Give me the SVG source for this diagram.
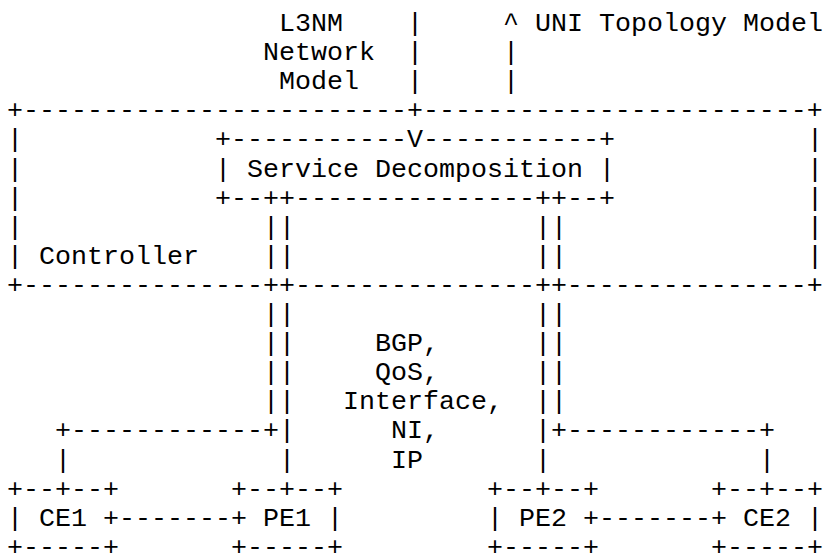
<svg xmlns="http://www.w3.org/2000/svg" width="823" height="557" viewBox="0 0 823 557">
<style>
text { font-family: "Liberation Mono", "DejaVu Sans Mono", monospace; font-size: 26.667px; fill: #000; white-space: pre; }
</style>
<rect width="823" height="557" fill="#fff"/>
<g id="labels">
<text x="279" y="31">L3NM</text>
<text x="263" y="60.1">Network</text>
<text x="279" y="89.2">Model</text>
<text x="535" y="31">UNI Topology Model</text>
<text x="375" y="351.1">BGP,</text>
<text x="375" y="380.2">QoS,</text>
<text x="343" y="409.3">Interface,</text>
<text x="391" y="438.4">NI,</text>
<text x="391" y="467.5">IP</text>
</g>
<g id="controller">
<text x="7" y="118.3">+------------------------+------------------------+</text>
<text x="7" y="147.4">|</text><text x="807" y="147.4">|</text>
<text x="7" y="176.5">|</text><text x="807" y="176.5">|</text>
<text x="7" y="205.6">|</text><text x="807" y="205.6">|</text>
<text x="7" y="234.7">|</text><text x="807" y="234.7">|</text>
<text x="7" y="263.8">|</text><text x="39" y="263.8">Controller</text><text x="807" y="263.8">|</text>
<text x="7" y="292.9">+---------------++---------------++---------------+</text>
</g>
<g id="service-decomposition">
<text x="215" y="147.4">+-----------</text><text x="423" y="147.4">-----------+</text>
<text x="215" y="176.5">|</text><text x="247" y="176.5">Service Decomposition</text><text x="599" y="176.5">|</text>
<text x="215" y="205.6">+--++---------------++--+</text>
</g>
<g id="ce1">
<text x="7" y="496.6">+--+--+</text>
<text x="7" y="525.7">| CE1 +</text>
<text x="7" y="554.8">+-----+</text>
</g>
<g id="pe1">
<text x="231" y="496.6">+--+--+</text>
<text x="231" y="525.7">+ PE1 |</text>
<text x="231" y="554.8">+-----+</text>
</g>
<g id="pe2">
<text x="487" y="496.6">+--+--+</text>
<text x="487" y="525.7">| PE2 +</text>
<text x="487" y="554.8">+-----+</text>
</g>
<g id="ce2">
<text x="711" y="496.6">+--+--+</text>
<text x="711" y="525.7">+ CE2 |</text>
<text x="711" y="554.8">+-----+</text>
</g>
<g id="connectors">
<text x="407" y="31">|</text><text x="407" y="60.1">|</text><text x="407" y="89.2">|</text>
<text x="407" y="147.4">V</text>
<text x="503" y="31">^</text><text x="503" y="60.1">|</text><text x="503" y="89.2">|</text>
<text x="263" y="234.7">||</text><text x="535" y="234.7">||</text>
<text x="263" y="263.8">||</text><text x="535" y="263.8">||</text>
<text x="263" y="322">||</text><text x="535" y="322">||</text>
<text x="263" y="351.1">||</text><text x="535" y="351.1">||</text>
<text x="263" y="380.2">||</text><text x="535" y="380.2">||</text>
<text x="263" y="409.3">||</text><text x="535" y="409.3">||</text>
<text x="55" y="438.4">+------------+|</text>
<text x="535" y="438.4">|+------------+</text>
<text x="55" y="467.5">|</text><text x="279" y="467.5">|</text>
<text x="535" y="467.5">|</text><text x="759" y="467.5">|</text>
<text x="119" y="525.7">-------</text>
<text x="599" y="525.7">-------</text>
</g>
</svg>
